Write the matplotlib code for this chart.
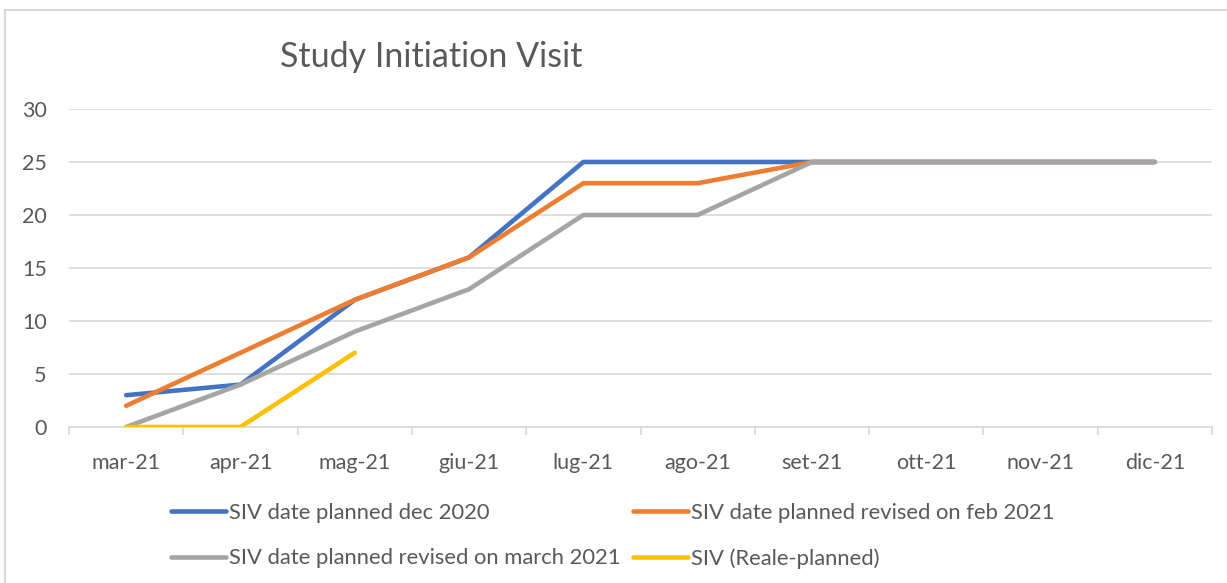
import matplotlib
matplotlib.use("Agg")
import matplotlib.pyplot as plt
from matplotlib.patches import Rectangle
from matplotlib.lines import Line2D

plt.rcParams['font.family'] = ['Lato', 'DejaVu Sans']

categories = ["mar-21", "apr-21", "mag-21", "giu-21", "lug-21", "ago-21",
              "set-21", "ott-21", "nov-21", "dic-21"]
dec2020 = [3, 4, 12, 16, 25, 25, 25, 25, 25, 25]
feb2021 = [2, 7, 12, 16, 23, 23, 25, 25, 25, 25]
mar2021 = [0, 4, 9, 13, 20, 20, 25, 25, 25, 25]
reale = [0, 0, 7]
series_names = ["SIV date planned dec 2020", "SIV date planned revised on feb 2021",
                "SIV date planned revised on march 2021", "SIV (Reale-planned)"]
colors = ["#4472C4", "#ED7D31", "#A5A5A5", "#FFC000"]
yticks = [0, 5, 10, 15, 20, 25, 30]

W, H = 1227, 583
fig = plt.figure(figsize=(W / 100, H / 100), dpi=100)
ax = fig.add_axes([69 / W, 1 - 427 / H, (1212 - 69) / W, (427 - 109) / H])

x = list(range(len(categories)))
for vals, c, name in zip([dec2020, feb2021, mar2021, reale], colors, series_names):
    ax.plot(x[:len(vals)], vals, color=c, lw=3.3, solid_capstyle='round',
            solid_joinstyle='round', label=name, zorder=3)

ax.set_xlim(-0.5, len(categories) - 0.5)
ax.set_ylim(0, 30)
ax.set_yticks(yticks)
ax.set_yticklabels([str(v) for v in yticks])
ax.set_xticks(x)
ax.set_xticklabels(categories)
ax.set_xticks([i - 0.5 for i in range(len(categories) + 1)], minor=True)
ax.tick_params(axis='x', which='major', length=0, pad=19, labelsize=15.5, labelcolor='#595959')
ax.tick_params(axis='x', which='minor', length=6, width=1.2, color='#D9D9D9', direction='out')
ax.tick_params(axis='y', length=0, pad=16, labelsize=15.5, labelcolor='#595959')
for s in ['top', 'right', 'left']:
    ax.spines[s].set_visible(False)
ax.spines['bottom'].set_color('#D9D9D9')
ax.spines['bottom'].set_linewidth(1.2)
ax.grid(axis='y', color='#D9D9D9', lw=1.2)
ax.set_axisbelow(True)

fig.text(280 / W, 1 - 57 / H, "Study Initiation Visit", fontsize=24.5, color='#595959',
         ha='left', va='center')

order = [0, 2, 1, 3]
leg_handles = [Line2D([0], [0], color=colors[i], lw=3.3, solid_capstyle='round') for i in order]
leg = fig.legend(leg_handles, [series_names[i] for i in order], ncol=2,
                 loc='upper left', bbox_to_anchor=(171 / W, 1 - 503 / H),
                 frameon=False, fontsize=15.8, handlelength=2.5, handletextpad=0.15,
                 columnspacing=0.55, labelspacing=1.15, borderpad=0, borderaxespad=0)
for t in leg.get_texts():
    t.set_color('#595959')

fig.add_artist(Rectangle((5 / W, -0.1), 2, 1 - 10 / H + 0.1, transform=fig.transFigure,
                         fill=False, ec='#D9D9D9', lw=1.5))

fig.savefig("out.png", dpi=100, facecolor='white')
